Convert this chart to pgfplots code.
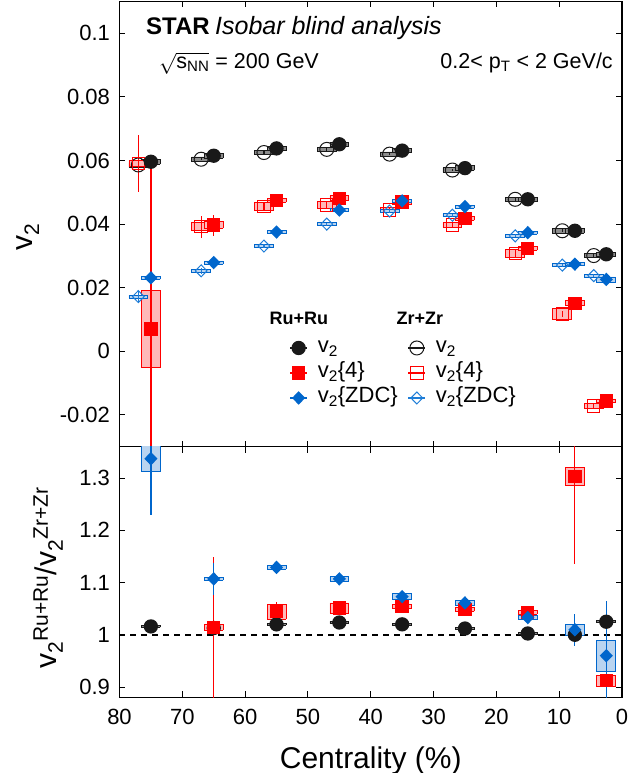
\documentclass[border=0pt]{standalone}
\usepackage{pgfplots}
\pgfplotsset{compat=1.18}
\usepackage{pgfplotstable}
\usepackage{fontspec}
\setmainfont{Liberation Sans}

\definecolor{rublack}{RGB}{25,25,25}
\definecolor{myred}{RGB}{255,0,0}
\definecolor{myblue}{RGB}{0,102,204}
\definecolor{zrblue}{RGB}{30,125,215}
\definecolor{boxred}{RGB}{255,185,185}
\definecolor{boxblue}{RGB}{185,212,240}
\definecolor{boxgray}{RGB}{140,140,140}

\pgfplotsset{
 ruv2/.style={color=rublack, mark=*, mark size=6.5pt, mark options={solid, fill=rublack}, line width=1.3pt},
 ruv4/.style={color=myred, mark=square*, mark size=6pt, mark options={solid, fill=myred}, line width=1.3pt},
 ruzdc/.style={color=myblue, mark=diamond*, mark size=5.8pt, mark options={solid, fill=myblue, xscale=1.3}, line width=1.3pt},
 zrv2/.style={color=rublack, mark=o, mark size=7pt, mark options={solid, line width=1pt}, line width=1.1pt},
 zrv4/.style={color=myred, mark=square, mark size=6.2pt, mark options={solid, line width=1pt}, line width=1.1pt},
 zrzdc/.style={color=zrblue, mark=diamond, mark size=6pt, mark options={solid, line width=1pt, xscale=1.3}, line width=1.1pt},
 boxgr/.style={draw=rublack, fill=boxgray, line width=0.8pt, mark=none},
 boxrd/.style={draw=myred, fill=boxred, line width=0.8pt, mark=none},
 boxbl/.style={draw=myblue, fill=boxblue, line width=0.8pt, mark=none},
 errs/.style={error bars/y dir=both, error bars/y explicit, error bars/error mark=none, error bars/error bar style={line width=1.2pt}},
}

\newcommand\sysboxes[2]{%
  \pgfplotstablegetrowsof{#1}%
  \pgfmathtruncatemacro\nrowsm{\pgfplotsretval-1}%
  \pgfplotsforeachungrouped \i in {0,...,\nrowsm}{%
    \pgfplotstablegetelem{\i}{x}\of{#1}\let\bx\pgfplotsretval
    \pgfplotstablegetelem{\i}{y}\of{#1}\let\by\pgfplotsretval
    \pgfplotstablegetelem{\i}{sy}\of{#1}\let\bs\pgfplotsretval
    \pgfmathsetmacro\xa{\bx-1.5}\pgfmathsetmacro\xb{\bx+1.5}%
    \pgfmathsetmacro\ya{\by-\bs}\pgfmathsetmacro\yb{\by+\bs}%
    \edef\sysboxcmd{\noexpand\addplot[#2, forget plot] coordinates {(\xa,\ya) (\xb,\ya) (\xb,\yb) (\xa,\yb) (\xa,\ya)};}%
    \sysboxcmd
  }}

% ---------- top panel data: x y stat-err sys-err ----------
\pgfplotstableread{
x y ey sy
75 0.0596 0.0004 0.0007
65 0.0615 0.0004 0.0007
55 0.0638 0.0004 0.0007
45 0.0651 0.0004 0.0007
35 0.0631 0.0004 0.0007
25 0.0576 0.0004 0.0007
15 0.0478 0.0004 0.0007
7.5 0.0379 0.0004 0.0007
2.5 0.0305 0.0004 0.0007
}\ruvtwo
\pgfplotstableread{
x y ey sy
77 0.0586 0.0004 0.0007
67 0.0604 0.0004 0.0007
57 0.0625 0.0004 0.0007
47 0.0635 0.0004 0.0007
37 0.0620 0.0004 0.0007
27 0.0570 0.0004 0.0007
17 0.0478 0.0004 0.0007
9.5 0.0379 0.0004 0.0007
4.5 0.0301 0.0004 0.0007
}\zrvtwo
\pgfplotstableread{
x y ey sy
75 0.0070 0.0516 0.0121
65 0.0397 0.0033 0.0010
55 0.0474 0.0012 0.0006
45 0.0481 0.0010 0.0008
35 0.0469 0.0010 0.0006
25 0.0418 0.0008 0.0006
15 0.0324 0.0008 0.0006
7.5 0.0151 0.0008 0.0008
2.5 -0.0156 0.0006 0.0006
}\ruvfour
\pgfplotstableread{
x y ey sy
77 0.0591 0.0090 0.0010
67 0.0392 0.0035 0.0012
57 0.0455 0.0012 0.0013
47 0.0460 0.0010 0.0010
37 0.0444 0.0010 0.0008
27 0.0397 0.0010 0.0008
17 0.0308 0.0010 0.0012
9.5 0.0117 0.0010 0.0017
4.5 -0.0172 0.0010 0.0008
}\zrvfour
\pgfplotstableread{
x y ey sy
75 0.0231 0.0012 0.0005
65 0.0279 0.0008 0.0005
55 0.0375 0.0005 0.0005
45 0.0444 0.0005 0.0005
35 0.0473 0.0005 0.0005
25 0.0455 0.0005 0.0005
15 0.0373 0.0005 0.0005
7.5 0.0274 0.0005 0.0005
2.5 0.0226 0.0005 0.0008
}\ruzdcT
\pgfplotstableread{
x y ey sy
77 0.0172 0.0018 0.0005
67 0.0253 0.0010 0.0005
57 0.0331 0.0005 0.0005
47 0.0400 0.0005 0.0005
37 0.0441 0.0005 0.0005
27 0.0428 0.0005 0.0005
17 0.0363 0.0005 0.0005
9.5 0.0271 0.0005 0.0005
4.5 0.0238 0.0005 0.0005
}\zrzdcT

% ---------- ratio panel data ----------
\pgfplotstableread{
x y ey sy
75 1.016 0.004 0.002
65 1.013 0.004 0.002
55 1.020 0.004 0.002
45 1.0235 0.004 0.002
35 1.020 0.004 0.002
25 1.012 0.004 0.002
15 1.0025 0.004 0.002
7.5 1.000 0.004 0.002
2.5 1.025 0.004 0.002
}\rvtwo
\pgfplotstableread{
x y ey sy
65 1.014 0.135 0.005
55 1.044 0.018 0.014
45 1.051 0.008 0.010
35 1.054 0.006 0.004
25 1.049 0.006 0.004
15 1.043 0.005 0.004
7.5 1.303 0.168 0.018
2.5 0.912 0.100 0.010
}\rvfour
\pgfplotstableread{
x y ey sy
75 1.337 0.108 0.025
65 1.107 0.030 0.003
55 1.129 0.006 0.004
45 1.107 0.004 0.004
35 1.073 0.005 0.006
25 1.061 0.005 0.005
15 1.033 0.004 0.004
7.5 1.0096 0.031 0.010
2.5 0.960 0.105 0.030
}\rzdc

\pgfplotsset{
 common/.style={
  scale only axis, width=502.5pt,
  xmin=0, xmax=80, x dir=reverse,
  xtick={0,10,...,80},
  tick align=inside, major tick length=6pt,
  tick style={black, line width=1pt},
  axis line style={line width=1.6pt},
  ticklabel style={font=\fontsize{22}{22}\selectfont},
  yticklabel style={xshift=-6pt},
  scaled y ticks=false,
  clip=true,
 }
}

\begin{document}
\begin{tikzpicture}
\useasboundingbox (0,0) rectangle (630pt,773pt);

\begin{axis}[common,
  at={(119.5pt,326.3pt)}, anchor=south west, height=445.2pt,
  ymin=-0.03, ymax=0.11,
  xticklabels={},
  ytick={-0.02,0,0.02,0.04,0.06,0.08,0.1},
  yticklabels={-0.02,0,0.02,0.04,0.06,0.08,0.1},
  ylabel={v\textsubscript{2}},
  every axis y label/.style={at={(axis description cs:-0.182,0.471)}, rotate=90, anchor=center, font=\fontsize{30}{30}\selectfont},
  legend columns=2,
  legend cell align=left,
  legend image code/.code={\draw[mark repeat=2,mark phase=2,#1] plot coordinates {(0pt,0pt) (8.5pt,0pt) (17pt,0pt)};},
  legend style={at={(axis description cs:0.3383,0.2442)}, anchor=north west, draw=none, fill=none,
     inner sep=0pt, outer sep=0pt, row sep=5pt,
     font=\fontsize{22}{22}\selectfont,
     nodes={inner sep=0pt, text height=15pt, text depth=5pt},
     /tikz/every odd column/.style={column sep=10pt},
     /tikz/every even column/.style={column sep=10pt}},
]
\sysboxes{\zrvtwo}{boxgr}
\sysboxes{\ruvtwo}{boxgr}
\sysboxes{\zrvfour}{boxrd}
\sysboxes{\ruvfour}{boxrd}
\sysboxes{\zrzdcT}{boxbl}
\sysboxes{\ruzdcT}{boxbl}

\addplot[zrv2, only marks, errs, forget plot] table[x=x, y=y, y error=ey] {\zrvtwo};
\addplot[zrv4, only marks, errs, forget plot] table[x=x, y=y, y error=ey] {\zrvfour};
\addplot[zrzdc, only marks, errs, forget plot] table[x=x, y=y, y error=ey] {\zrzdcT};
\addplot[ruv2, only marks, errs, forget plot] table[x=x, y=y, y error=ey] {\ruvtwo};
\addplot[ruv4, only marks, errs, forget plot] table[x=x, y=y, y error=ey] {\ruvfour};
\addplot[ruzdc, only marks, errs, forget plot] table[x=x, y=y, y error=ey] {\ruzdcT};

\addlegendimage{ruv2}
\addlegendentry{v\textsubscript{2}}
\addlegendimage{zrv2}
\addlegendentry{v\textsubscript{2}}
\addlegendimage{ruv4}
\addlegendentry{v\textsubscript{2}\{4\}}
\addlegendimage{zrv4}
\addlegendentry{v\textsubscript{2}\{4\}}
\addlegendimage{ruzdc}
\addlegendentry{v\textsubscript{2}\{ZDC\}}
\addlegendimage{zrzdc}
\addlegendentry{v\textsubscript{2}\{ZDC\}}

\node[anchor=base west, inner sep=0pt, font=\bfseries\fontsize{24}{24}\selectfont] at (axis description cs:0.0527,0.9248) {STAR};
\node[anchor=base west, inner sep=0pt, font=\itshape\fontsize{25}{25}\selectfont] at (axis description cs:0.1900,0.9248) {Isobar blind analysis};
\node[anchor=base west, inner sep=0pt, font=\fontsize{21.5}{21.5}\selectfont] at (axis description cs:0.0786,0.8497) {$\sqrt{\mbox{s\textsubscript{NN}}}$ = 200 GeV};
\node[anchor=base east, inner sep=0pt, font=\fontsize{21.5}{21.5}\selectfont] at (axis description cs:0.982,0.8497) {0.2< p\textsubscript{T} < 2 GeV/c};
\node[anchor=base, inner sep=0pt, font=\bfseries\fontsize{18}{18}\selectfont] at (axis description cs:0.357,0.2734) {Ru+Ru};
\node[anchor=base, inner sep=0pt, font=\bfseries\fontsize{18}{18}\selectfont] at (axis description cs:0.598,0.2734) {Zr+Zr};
\end{axis}

\begin{axis}[common,
  at={(119.5pt,326.3pt)}, anchor=north west, height=250.8pt,
  ymin=0.88, ymax=1.36,
  xticklabels={0,10,20,30,40,50,60,70,80},
  xticklabel style={yshift=-8pt},
  ytick={0.9,1,1.1,1.2,1.3},
  yticklabels={0.9,1,1.1,1.2,1.3},
  xlabel={Centrality (\%)},
  every axis x label/.style={at={(axis description cs:0.5,-0.282)}, anchor=base, font=\fontsize{30}{30}\selectfont},
  ylabel={v\textsubscript{2}\textsuperscript{Ru+Ru}/v\textsubscript{2}\textsuperscript{Zr+Zr}},
  every axis y label/.style={at={(axis description cs:-0.142,0.476)}, rotate=90, anchor=center, font=\fontsize{30}{30}\selectfont},
]
\addplot[black, line width=2pt, dash pattern=on 6pt off 5pt, forget plot] coordinates {(80,1) (0,1)};
\sysboxes{\rvtwo}{boxgr}
\sysboxes{\rvfour}{boxrd}
\sysboxes{\rzdc}{boxbl}
\addplot[ruv2, only marks, errs, forget plot] table[x=x, y=y, y error=ey] {\rvtwo};
\addplot[ruv4, only marks, errs, forget plot] table[x=x, y=y, y error=ey] {\rvfour};
\addplot[ruzdc, only marks, errs, forget plot] table[x=x, y=y, y error=ey] {\rzdc};
\end{axis}
\end{tikzpicture}
\end{document}
